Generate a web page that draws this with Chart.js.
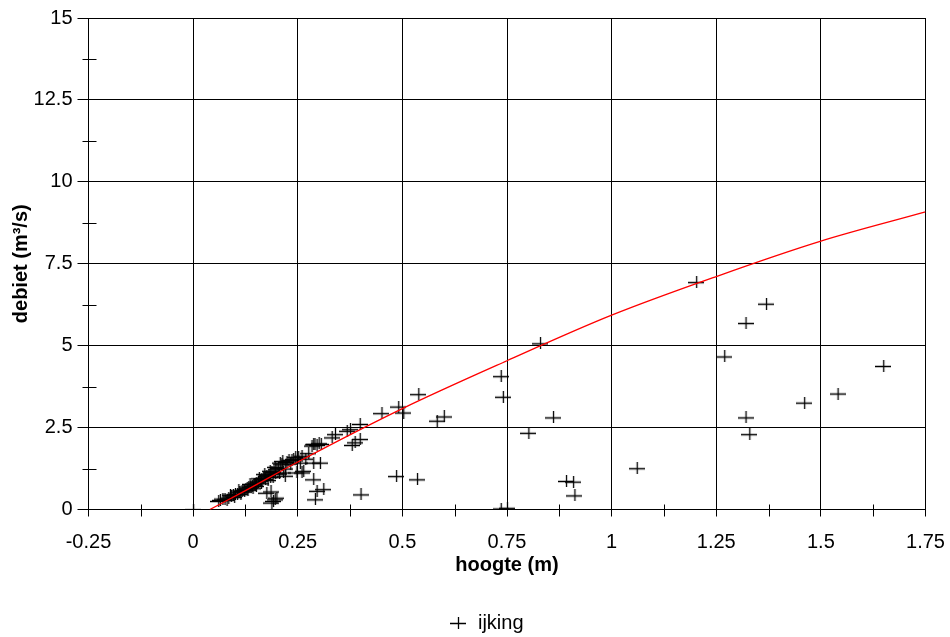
<!DOCTYPE html>
<html><head><meta charset="utf-8">
<script src="https://cdn.jsdelivr.net/npm/chart.js@4/dist/chart.umd.min.js"></script>
<style>html,body{margin:0;padding:0;background:#fff}canvas{display:block}</style>
</head><body>
<canvas id="c" width="950" height="637" style="width:950px;height:637px"></canvas>
<script>
// ---- data: ijking (calibration measurements) ----
const hoogte = [
  0.000,
  0.060,0.064,0.075,0.084,0.090,0.095,0.100,0.105,0.110,0.116,0.120,0.125,0.128,0.132,0.137,0.140,
  0.145,0.148,0.151,0.155,0.160,0.163,0.168,0.172,0.175,0.180,0.184,0.187,0.192,0.196,0.199,0.203,
  0.207,0.211,0.215,0.219,0.223,0.228,0.235,0.239,0.247,0.251,0.255,0.259,0.259,0.263,
  0.070,0.080,0.088,0.098,0.108,0.113,0.122,0.130,0.135,0.142,0.150,0.157,0.162,0.170,0.178,0.183,
  0.190,0.195,0.205,0.213,0.220,0.232,0.244,0.268,0.275,
  0.283,0.287,0.290,0.295,0.300,0.305,0.287,0.303,0.287,0.291,0.311,0.295,
  0.331,0.339,0.367,0.375,0.398,0.379,0.386,0.398,0.400,
  0.175,0.185,0.187,0.195,0.199,0.191,
  0.450,0.490,0.502,0.538,0.582,0.599,0.485,0.535,
  0.735,0.740,0.735,0.750,0.801,0.829,0.860,0.891,0.908,0.911,
  1.060,1.202,1.269,1.320,1.369,1.320,1.329,1.460,1.540,1.649
];
const debiet = [
  0.00,
  0.26,0.29,0.31,0.36,0.40,0.43,0.46,0.48,0.53,0.57,0.60,0.62,0.65,0.70,0.68,0.72,
  0.78,0.74,0.82,0.85,0.88,0.92,0.96,0.93,1.03,1.05,1.00,1.13,1.15,1.10,1.23,1.27,
  1.43,1.38,1.13,1.03,1.45,1.50,1.51,1.54,1.13,1.59,1.43,1.64,1.13,1.18,
  0.33,0.30,0.45,0.38,0.58,0.47,0.55,0.60,0.78,0.65,0.72,0.95,0.80,1.08,0.90,1.18,
  1.00,1.30,1.10,1.48,1.25,1.40,1.60,1.55,1.72,
  1.95,1.99,2.00,1.97,2.02,2.00,1.43,1.43,0.92,0.31,0.62,0.57,
  2.20,2.30,2.40,2.45,2.61,1.97,2.05,2.15,0.46,
  0.51,0.55,0.21,0.31,0.36,0.26,
  2.94,3.14,2.96,3.52,2.71,2.84,1.02,0.92,
  4.07,3.44,0.03,0.05,2.34,5.07,2.81,0.87,0.85,0.43,
  1.26,6.94,4.67,5.69,6.28,2.81,2.30,3.26,3.54,4.38
];
// ---- rating curve (red line) ----
const curveHoogte = [0.04, 0.125, 0.25, 0.5, 0.75, 1.0, 1.25, 1.5, 1.75];
const curveDebiet = [0.00, 0.575, 1.45, 3.08, 4.54, 5.93, 7.11, 8.19, 9.08];
// ---- ticks ----
const xMajorTicks = [-0.25, 0, 0.25, 0.5, 0.75, 1, 1.25, 1.5, 1.75];
const xTickLabels = ['-0.25', '0', '0.25', '0.5', '0.75', '1', '1.25', '1.5', '1.75'];
const xMinorTicks = [-0.125, 0.125, 0.375, 0.625, 0.875, 1.125, 1.375, 1.625];
const yMajorTicks = [0, 2.5, 5, 7.5, 10, 12.5, 15];
const yTickLabels = ['0', '2.5', '5', '7.5', '10', '12.5', '15'];
const yMinorTicks = [1.25, 3.75, 6.25, 8.75, 11.25, 13.75];

const FONT = "'Liberation Sans', Arial, sans-serif";
const LEGEND_SHIFT_X = 23;
const LEGEND_SHIFT_Y = 6;

function makeCross(w, h) {
  const c = document.createElement('canvas');
  c.width = w; c.height = h;
  const g = c.getContext('2d');
  g.strokeStyle = '#000'; g.lineWidth = 1.3;
  g.beginPath();
  g.moveTo(0, h / 2 + 0.5); g.lineTo(w, h / 2 + 0.5);
  g.moveTo(w / 2 + 0.5, 0); g.lineTo(w / 2 + 0.5, h);
  g.stroke();
  return c;
}
const cross = makeCross(16, 12);

const isIn = (arr, v) => arr.some(m => Math.abs(m - v) < 1e-9);

const minorTicksPlugin = {
  id: 'minorTicks',
  afterDraw(chart) {
    const { ctx, scales: { x, y } } = chart;
    ctx.save();
    ctx.strokeStyle = '#000';
    ctx.lineWidth = 1;
    ctx.beginPath();
    const yAxis = Math.round(y.getPixelForValue(0)) + 0.5;
    xMinorTicks.forEach(v => {
      const px = Math.round(x.getPixelForValue(v)) + 0.5;
      ctx.moveTo(px, yAxis - 6); ctx.lineTo(px, yAxis + 6);
    });
    const xAxis = Math.round(x.getPixelForValue(-0.25)) + 0.5;
    yMinorTicks.forEach(v => {
      const py = Math.round(y.getPixelForValue(v)) + 0.5;
      ctx.moveTo(xAxis - 7, py); ctx.lineTo(xAxis + 7, py);
    });
    ctx.stroke();
    ctx.restore();
  }
};
const legendShiftPlugin = {
  id: 'legendShift',
  afterLayout(chart) {
    const l = chart.legend;
    if (l) {
      l.left += LEGEND_SHIFT_X; l.right += LEGEND_SHIFT_X;
      l.top += LEGEND_SHIFT_Y; l.bottom += LEGEND_SHIFT_Y;
    }
  }
};

new Chart(document.getElementById('c'), {
  type: 'scatter',
  data: {
    datasets: [
      {
        type: 'line',
        label: 'curve',
        data: curveHoogte.map((h, i) => ({ x: h, y: curveDebiet[i] })),
        borderColor: '#ff0000',
        borderWidth: 1.3,
        pointRadius: 0,
        fill: false,
        cubicInterpolationMode: 'monotone'
      },
      {
        label: 'ijking',
        data: hoogte.map((h, i) => ({ x: h, y: debiet[i] })),
        pointStyle: cross,
        pointRadius: 8,
        backgroundColor: '#000',
        borderColor: '#000'
      }
    ]
  },
  options: {
    responsive: false,
    animation: false,
    layout: { padding: { top: 18, right: 24.5, left: 0, bottom: 0 } },
    plugins: {
      tooltip: { enabled: false },
      legend: {
        position: 'bottom',
        labels: {
          usePointStyle: true,
          padding: 5,
          color: '#000',
          font: { family: FONT, size: 20 },
          filter: item => item.text === 'ijking'
        }
      }
    },
    scales: {
      x: {
        type: 'linear',
        min: -0.25, max: 1.75,
        afterBuildTicks: s => { s.ticks = [...xMajorTicks, ...xMinorTicks].sort((a, b) => a - b).map(v => ({ value: v })); },
        afterFit: s => { s.height = 92.5; s.paddingRight = 0; },
        ticks: {
          autoSkip: false, maxRotation: 0, padding: 13.5,
          color: '#000', font: { family: FONT, size: 20 },
          callback: v => { const i = xMajorTicks.findIndex(m => Math.abs(m - v) < 1e-9); return i >= 0 ? xTickLabels[i] : ''; }
        },
        grid: {
          color: c => isIn(xMajorTicks, c.tick.value) ? '#000' : 'rgba(0,0,0,0)',
          tickColor: c => isIn(xMajorTicks, c.tick.value) ? '#000' : 'rgba(0,0,0,0)',
          tickLength: 7, lineWidth: 1
        },
        border: { color: '#000', width: 1 },
        title: { display: true, text: 'hoogte (m)', color: '#000', font: { family: FONT, size: 20, weight: 'bold' }, padding: { top: 4, bottom: 25 } }
      },
      y: {
        type: 'linear',
        min: 0, max: 15,
        afterBuildTicks: s => { s.ticks = [...yMajorTicks, ...yMinorTicks].sort((a, b) => a - b).map(v => ({ value: v })); },
        afterFit: s => { s.width = 88.5; },
        ticks: {
          autoSkip: false, padding: 5,
          color: '#000', font: { family: FONT, size: 20 },
          callback: v => { const i = yMajorTicks.findIndex(m => Math.abs(m - v) < 1e-9); return i >= 0 ? yTickLabels[i] : ''; }
        },
        grid: {
          color: c => isIn(yMajorTicks, c.tick.value) ? '#000' : 'rgba(0,0,0,0)',
          tickColor: c => isIn(yMajorTicks, c.tick.value) ? '#000' : 'rgba(0,0,0,0)',
          tickLength: 11, lineWidth: 1
        },
        border: { color: '#000', width: 1 },
        title: { display: true, text: 'debiet (m³/s)', color: '#000', font: { family: FONT, size: 20, weight: 'bold' }, padding: { top: 9, bottom: 4 } }
      }
    }
  },
  plugins: [minorTicksPlugin, legendShiftPlugin]
});
</script>
</body></html>
